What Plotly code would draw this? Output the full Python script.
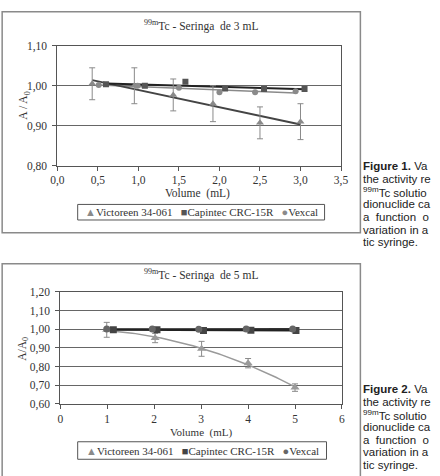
import numpy as np
import plotly.graph_objects as go

W, H = 440, 476
def X(p): return p / W
def Y(p): return 1 - p / H

# ---------------- data: Figure 1 (3 mL syringe) ----------------
vol3_vic = [0.43, 0.95, 1.43, 1.92, 2.50, 3.00]
a3_vic = [1.005, 1.000, 0.977, 0.955, 0.907, 0.910]
err3_vic = [0.040, 0.045, 0.040, 0.045, 0.040, 0.045]
vol3_cap = [0.60, 1.08, 1.58, 2.07, 2.55, 3.05]
a3_cap = [1.004, 1.000, 1.010, 0.993, 0.992, 0.992]
vol3_vex = [0.51, 0.99, 1.50, 2.00, 2.44, 2.94]
a3_vex = [1.002, 1.000, 0.995, 0.984, 0.984, 0.986]

# ---------------- data: Figure 2 (5 mL syringe) ----------------
vol5_vic = [0.99, 2.02, 3.01, 4.00, 5.00]
a5_vic = [0.997, 0.953, 0.895, 0.818, 0.687]
err5_vic = [0.040, 0.025, 0.040, 0.025, 0.020]
vol5_cap = [1.13, 2.06, 3.05, 4.06, 5.02]
a5_cap = [0.998, 0.997, 0.994, 0.995, 0.994]
vol5_vex = [0.99, 1.96, 2.95, 3.96, 4.95]
a5_vex = [1.001, 1.001, 1.000, 1.001, 1.002]

names = ["Victoreen 34-061", "Capintec CRC-15R", "Vexcal"]
titles = ["Seringa  de 3 mL", "Seringa  de 5 mL"]
x_ticks1 = [0, 0.5, 1, 1.5, 2, 2.5, 3, 3.5]
x_ticks2 = [0, 1, 2, 3, 4, 5, 6]

# caption text as visible at the right edge of the page
caption1 = ["<b>Figure 1.</b> Va", "the activity re", "<sup>99m</sup>Tc solutio",
            "dionuclide ca", "a  function  o", "variation in a", "tic syringe."]
caption2 = ["<b>Figure 2.</b> Va", "the activity re", "<sup>99m</sup>Tc solutio",
            "dionuclide ca", "a  function  o", "variation in a", "tic syringe."]

SERIF = "Liberation Serif, Times New Roman, serif"
SANS = "Liberation Sans, Arial, sans-serif"
TXT = "#333333"

fig = go.Figure()

def fit_line(x, y, deg, xa, ya, color, width):
    c = np.polyfit(x, y, deg)
    xs = np.linspace(min(x), max(x), 60)
    fig.add_trace(go.Scatter(x=xs, y=np.polyval(c, xs), mode="lines",
                             line=dict(color=color, width=width),
                             showlegend=False, hoverinfo="skip",
                             xaxis=xa, yaxis=ya))

fit_line(vol3_vex, a3_vex, 1, "x", "y", "#8a8a8a", 1.5)
fit_line(vol3_vic, a3_vic, 1, "x", "y", "#444444", 2)
fit_line(vol3_cap, a3_cap, 1, "x", "y", "#222222", 2)
fit_line(vol5_vic, a5_vic, 2, "x2", "y2", "#9a9a9a", 1.5)
fit_line(vol5_vex, a5_vex, 1, "x2", "y2", "#333333", 2)
fit_line(vol5_cap, a5_cap, 1, "x2", "y2", "#222222", 2)

def markers(x, y, sym, color, size, xa, ya, err=None):
    kw = {}
    if err is not None:
        kw["error_y"] = dict(type="data", array=err, visible=True,
                             color="#8a8a8a", thickness=1, width=3)
    fig.add_trace(go.Scatter(x=x, y=y, mode="markers",
                             marker=dict(symbol=sym, color=color, size=size),
                             showlegend=False, xaxis=xa, yaxis=ya, **kw))

markers(vol3_vic, a3_vic, "triangle-up", "#8a8a8a", 7, "x", "y", err3_vic)
markers(vol3_cap, a3_cap, "square", "#555555", 6, "x", "y")
markers(vol3_vex, a3_vex, "circle", "#8a8a8a", 6, "x", "y")
markers(vol5_vic, a5_vic, "triangle-up", "#9a9a9a", 8, "x2", "y2", err5_vic)
markers(vol5_cap, a5_cap, "square", "#444444", 7, "x2", "y2")
markers(vol5_vex, a5_vex, "circle", "#666666", 7, "x2", "y2")

axis_common = dict(showline=True, linecolor="#555555", linewidth=1, mirror=True,
                   ticks="outside", ticklen=4, tickcolor="#555555",
                   tickfont=dict(family=SERIF, size=11.5, color=TXT),
                   zeroline=False, fixedrange=True)

fig.update_layout(
    width=W, height=H, margin=dict(l=0, r=0, t=0, b=0),
    paper_bgcolor="white", plot_bgcolor="white",
    separators=", ", showlegend=False,
    xaxis=dict(domain=[X(52), X(345)], range=[0, 3.5], tickvals=x_ticks1,
               tickformat=".1f", showgrid=False, anchor="y", **axis_common),
    yaxis=dict(domain=[Y(164), Y(41)], range=[0.8, 1.1], dtick=0.1,
               tickformat=".2f", showgrid=True, gridcolor="#666666",
               gridwidth=1, anchor="x", ticklabelstandoff=3, **axis_common),
    xaxis2=dict(domain=[X(55), X(346)], range=[0, 6], tickvals=x_ticks2,
                tickformat="d", showgrid=False, anchor="y2", **axis_common),
    yaxis2=dict(domain=[Y(409), Y(294)], range=[0.6, 1.2], dtick=0.1,
                tickformat=".2f", showgrid=True, gridcolor="#666666",
                gridwidth=1, anchor="x2", ticklabelstandoff=3, **axis_common),
)

shapes = []
shapes.append(dict(type="rect", xref="paper", yref="paper",
                   x0=X(-5), x1=X(365), y0=Y(233), y1=Y(6),
                   line=dict(color="#8a8a8a", width=1.5)))
shapes.append(dict(type="rect", xref="paper", yref="paper",
                   x0=X(-5), x1=X(365), y0=Y(490), y1=Y(265),
                   line=dict(color="#8a8a8a", width=1.5)))
shapes.append(dict(type="rect", xref="paper", yref="paper",
                   x0=X(73), x1=X(328), y0=Y(220), y1=Y(204),
                   line=dict(color="#555555", width=1)))
shapes.append(dict(type="rect", xref="paper", yref="paper",
                   x0=X(73), x1=X(330), y0=Y(466), y1=Y(448),
                   line=dict(color="#555555", width=1)))
fig.update_layout(shapes=shapes)

ann = []
def text(x, y, s, font, size, anchor="center", angle=0, color=TXT):
    ann.append(dict(x=X(x), y=Y(y), xref="paper", yref="paper", text=s,
                    showarrow=False, xanchor=anchor, yanchor="middle",
                    textangle=angle,
                    font=dict(family=font, size=size, color=color)))

text(200, 20, "<sup>99m</sup>Tc - " + titles[0], SERIF, 11.5)
text(200, 276, "<sup>99m</sup>Tc - " + titles[1], SERIF, 11.5)
text(197, 193, "Volume  (mL)", SERIF, 11.5)
text(200, 438, "Volume  (mL)", SERIF, 11)
text(18, 102, "A / A<sub>0</sub>", SERIF, 11.5, angle=-90)
text(17, 352, "A/A<sub>0</sub>", SERIF, 11.5, angle=-90)

GAP = "&nbsp;&nbsp;&nbsp;"
def legend_text(c1, c2, c3):
    return (f'<span style="color:{c1}">▲</span>{names[0]}{GAP}'
            f'<span style="color:{c2}">■</span>{names[1]}{GAP}'
            f'<span style="color:{c3}">●</span>{names[2]}')
text(201, 212, legend_text("#8a8a8a", "#555555", "#8a8a8a"), SERIF, 11)
text(202, 457, legend_text("#8a8a8a", "#444444", "#666666"), SERIF, 11)

for i, line in enumerate(caption1):
    text(366, 165 + 13 * i, line, SANS, 11.5, anchor="left", color="#222222")
for i, line in enumerate(caption2):
    text(366, 394 + 13 * i, line, SANS, 11.5, anchor="left", color="#222222")

fig.update_layout(annotations=ann)
fig.write_html("out.html")
